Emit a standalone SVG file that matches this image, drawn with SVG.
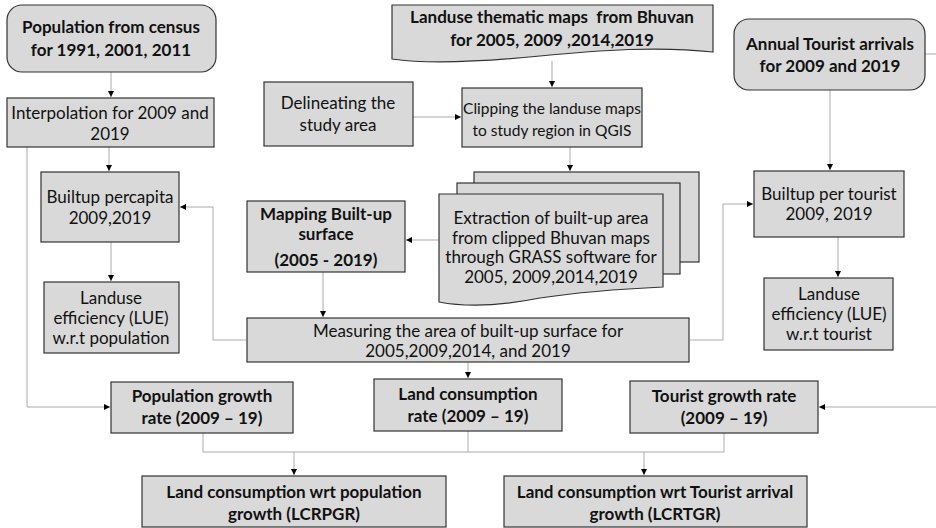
<svg xmlns="http://www.w3.org/2000/svg" width="936" height="528" viewBox="0 0 936 528">
<defs>
<marker id="ah" markerUnits="userSpaceOnUse" markerWidth="7" markerHeight="7" refX="6" refY="3" orient="auto">
<path d="M0,0 L6,3 L0,6 z" fill="#000"/>
</marker>
<style>
.box{fill:#d9d9d9;stroke:#333;stroke-width:1.2}
.t{font-family:Lato,"Open Sans","Liberation Sans",sans-serif;font-size:17px;fill:#111;text-anchor:middle}
.b{font-weight:bold}
.s{font-size:15.5px}
.c{fill:none;stroke:#aaa;stroke-width:1}
.a{marker-end:url(#ah)}
</style>
</defs>
<g id="connectors">
<path class="c a" d="M111,72 V97"/>
<path class="c a" d="M109,147 V171"/>
<path class="c a" d="M27,147 V407 H110"/>
<path class="c a" d="M111,242 V281"/>
<path class="c a" d="M246,340 H213 V207 H180"/>
<path class="c a" d="M552,61 V87"/>
<path class="c a" d="M413,117 H461"/>
<path class="c a" d="M570,147 V171"/>
<path class="c a" d="M439,240 H406"/>
<path class="c a" d="M323,272 V317"/>
<path class="c a" d="M468,362 V378"/>
<path class="c a" d="M830,90 V170"/>
<path class="c a" d="M838,237 V277"/>
<path class="c a" d="M690,340 H723 V204 H753"/>
<path class="c a" d="M925,54 H950 V407 H819"/>
<path class="c" d="M203,433 V452 H468 V431"/>
<path class="c" d="M468,452 H724 V433"/>
<path class="c a" d="M294,452 V475"/>
<path class="c a" d="M644,452 V475"/>
</g>
<g id="n-census">
<rect class="box" x="7" y="5" width="209" height="67" rx="15"/>
<text class="t b" x="111" y="33">Population from census</text>
<text class="t b" x="111" y="56">for 1991, 2001, 2011</text>
</g>
<g id="n-interp">
<rect class="box" x="7" y="98" width="207" height="49"/>
<text class="t" x="110" y="119">Interpolation for 2009 and</text>
<text class="t" x="110" y="140">2019</text>
</g>
<g id="n-bpc">
<rect class="box" x="41" y="172" width="138" height="70"/>
<text class="t" x="110" y="203">Builtup percapita</text>
<text class="t" x="110" y="224">2009,2019</text>
</g>
<g id="n-lue-pop">
<rect class="box" x="44" y="282" width="135" height="71"/>
<text class="t" x="111" y="304">Landuse</text>
<text class="t" x="111" y="324">efficiency (LUE)</text>
<text class="t" x="111" y="344">w.r.t population</text>
</g>
<g id="n-landuse">
<path class="box" d="M392,5 H713 V52 C660,46 600,50 540,56 C470,63 420,63 392,59 Z"/>
<text class="t b" x="552" y="23" xml:space="preserve" style="white-space:pre">Landuse thematic maps  from Bhuvan</text>
<text class="t b" x="552" y="46">for 2005, 2009 ,2014,2019</text>
</g>
<g id="n-delin">
<rect class="box" x="264" y="82" width="149" height="64"/>
<text class="t" x="338" y="109">Delineating the</text>
<text class="t" x="338" y="131">study area</text>
</g>
<g id="n-clip">
<rect class="box" x="462" y="88" width="180" height="59"/>
<text class="t s" x="552" y="114">Clipping the landuse maps</text>
<text class="t s" x="552" y="136">to study region in QGIS</text>
</g>
<g id="n-tourist">
<rect class="box" x="734" y="19" width="191" height="71" rx="15"/>
<text class="t b" x="830" y="50">Annual Tourist arrivals</text>
<text class="t b" x="830" y="72">for 2009 and 2019</text>
</g>
<g id="n-bpt">
<rect class="box" x="754" y="171" width="150" height="66"/>
<text class="t" x="829" y="200">Builtup per tourist</text>
<text class="t" x="829" y="220">2009, 2019</text>
</g>
<g id="n-lue-tour">
<rect class="box" x="764" y="278" width="129" height="72"/>
<text class="t" x="829" y="300">Landuse</text>
<text class="t" x="829" y="320">efficiency (LUE)</text>
<text class="t" x="829" y="340">w.r.t tourist</text>
</g>
<g id="n-extract">
<rect class="box" x="474" y="172" width="225" height="90"/>
<rect class="box" x="457" y="183" width="223" height="91"/>
<path class="box" d="M439,194 H663 V287 C620,289 580,292 540,298 C500,306 465,307 439,302 Z"/>
<text class="t" x="551" y="224">Extraction of built-up area</text>
<text class="t" x="551" y="244">from clipped Bhuvan maps</text>
<text class="t" x="551" y="263">through GRASS software for</text>
<text class="t" x="551" y="283">2005, 2009,2014,2019</text>
</g>
<g id="n-mapping">
<rect class="box" x="247" y="201" width="158" height="71"/>
<text class="t b" x="326" y="220">Mapping Built-up</text>
<text class="t b" x="326" y="240">surface</text>
<text class="t b" x="326" y="266">(2005 - 2019)</text>
</g>
<g id="n-measure">
<rect class="box" x="247" y="318" width="442" height="44"/>
<text class="t" x="468" y="337">Measuring the area of built-up surface for</text>
<text class="t" x="468" y="357">2005,2009,2014, and 2019</text>
</g>
<g id="n-popgr">
<rect class="box" x="111" y="382" width="182" height="51"/>
<text class="t b" x="202" y="402">Population growth</text>
<text class="t b" x="202" y="424">rate (2009 – 19)</text>
</g>
<g id="n-lcr">
<rect class="box" x="374" y="379" width="188" height="52"/>
<text class="t b" x="468" y="400">Land consumption</text>
<text class="t b" x="468" y="422">rate (2009 – 19)</text>
</g>
<g id="n-tgr">
<rect class="box" x="630" y="381" width="188" height="52"/>
<text class="t b" x="724" y="402">Tourist growth rate</text>
<text class="t b" x="724" y="424">(2009 – 19)</text>
</g>
<g id="n-lcrpgr">
<rect class="box" x="142" y="476" width="304" height="51"/>
<text class="t b" x="294" y="498">Land consumption wrt population</text>
<text class="t b" x="294" y="520">growth (LCRPGR)</text>
</g>
<g id="n-lcrtgr">
<rect class="box" x="504" y="476" width="303" height="51"/>
<text class="t b" x="655" y="498">Land consumption wrt Tourist arrival</text>
<text class="t b" x="655" y="520">growth (LCRTGR)</text>
</g>
</svg>
